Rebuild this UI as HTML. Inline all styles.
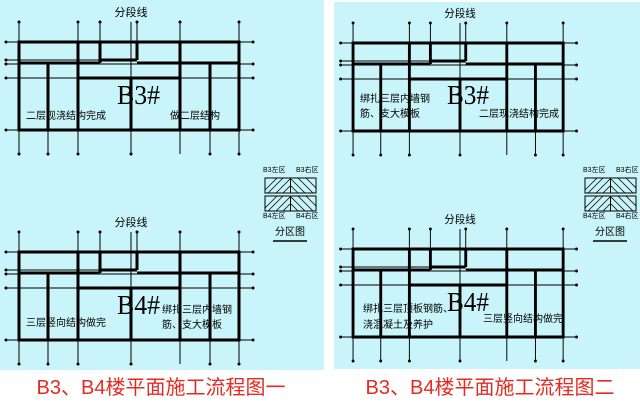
<!DOCTYPE html>
<html><head><meta charset="utf-8"><style>
html,body{margin:0;padding:0;background:#fff;width:640px;height:405px;overflow:hidden}
svg text{font-family:"Liberation Sans","Noto Sans CJK SC",sans-serif}
</style></head><body>
<svg width="640" height="405" viewBox="0 0 640 405" xmlns="http://www.w3.org/2000/svg">
<defs>
<g id="plan">
 <g stroke="#000" stroke-width="1" fill="none">
  <line x1="19" y1="22" x2="19" y2="154"/><line x1="48" y1="64" x2="48" y2="154"/>
  <line x1="78" y1="22" x2="78" y2="154"/><line x1="100" y1="22" x2="100" y2="60"/>
  <line x1="131" y1="22" x2="131" y2="154"/><line x1="137" y1="22" x2="137" y2="60"/>
  <line x1="180" y1="22" x2="180" y2="154"/><line x1="210" y1="64" x2="210" y2="154"/>
  <line x1="239" y1="22" x2="239" y2="154"/>
  <line x1="6" y1="42" x2="253" y2="42"/><line x1="6" y1="60" x2="115" y2="60"/>
  <line x1="6" y1="64" x2="253" y2="64"/><line x1="6" y1="78" x2="253" y2="78"/>
  <line x1="6" y1="130" x2="253" y2="130"/>
 </g>
 <g fill="#000">
  <circle cx="19" cy="22" r="1.5"/><circle cx="78" cy="22" r="1.5"/><circle cx="100" cy="22" r="1.5"/>
  <circle cx="137" cy="22" r="1.5"/><circle cx="180" cy="22" r="1.5"/><circle cx="239" cy="22" r="1.5"/>
  <circle cx="19" cy="154" r="1.5"/><circle cx="48" cy="154" r="1.5"/><circle cx="78" cy="154" r="1.5"/>
  <circle cx="131" cy="154" r="1.5"/><circle cx="210" cy="154" r="1.5"/><circle cx="239" cy="154" r="1.5"/>
  <circle cx="6" cy="42" r="1.5"/><circle cx="6" cy="60" r="1.5"/><circle cx="6" cy="64" r="1.5"/>
  <circle cx="6" cy="78" r="1.5"/><circle cx="6" cy="130" r="1.5"/>
  <circle cx="253" cy="42" r="1.5"/><circle cx="253" cy="64" r="1.5"/><circle cx="253" cy="78" r="1.5"/><circle cx="253" cy="130" r="1.5"/>
 </g>
 <g stroke="#000" stroke-width="3" fill="none">
  <rect x="19" y="42" width="220" height="88"/>
  <line x1="78" y1="42" x2="78" y2="130"/><line x1="180" y1="42" x2="180" y2="130"/>
  <line x1="100" y1="42" x2="100" y2="63"/><line x1="137" y1="42" x2="137" y2="60"/>
  <line x1="100" y1="60" x2="137" y2="60"/>
  <line x1="19" y1="63" x2="100" y2="63"/><line x1="137" y1="63" x2="239" y2="63"/>
  <line x1="48" y1="63" x2="48" y2="130"/><line x1="210" y1="63" x2="210" y2="130"/>
  <line x1="78" y1="78" x2="180" y2="78"/><line x1="131" y1="78" x2="131" y2="130"/>
 </g>
 <text x="131" y="16" font-size="11" text-anchor="middle">分段线</text>
</g>
<g id="box">
 <rect x="0" y="0" width="51" height="15" fill="none" stroke="#000"/>
 <line x1="25.5" y1="0" x2="25.5" y2="15" stroke="#000"/>
 <g stroke="#000" stroke-width="0.8">
  <line x1="0" y1="12" x2="12" y2="0"/><line x1="3" y1="15" x2="18" y2="0"/><line x1="11" y1="15" x2="25" y2="1"/><line x1="18" y1="15" x2="25" y2="8"/>
  <line x1="26" y1="1" x2="40" y2="15"/><line x1="33" y1="0" x2="48" y2="15"/><line x1="41" y1="0" x2="51" y2="10"/><line x1="26" y1="8" x2="33" y2="15"/>
 </g>
</g>
<g id="legend">
 <text x="0" y="172" font-size="7">B3左区</text><text x="33" y="172" font-size="7">B3右区</text>
 <use href="#box" x="2" y="178"/><use href="#box" x="2" y="196"/>
 <text x="0" y="218" font-size="7">B4左区</text><text x="33" y="218" font-size="7">B4右区</text>
 <text x="12" y="235" font-size="10">分区图</text>
 <line x1="10" y1="241" x2="44" y2="241" stroke="#000" stroke-width="1.5"/>
</g>
</defs>
<rect x="0" y="0" width="324" height="370" fill="#c9f4f9"/>
<rect x="334" y="2" width="306" height="367" fill="#c9f4f9"/>

<use href="#plan"/>
<use href="#plan" transform="translate(0,210)"/>
<use href="#plan" transform="translate(334.9,1) scale(0.955,1)"/>
<use href="#plan" transform="translate(334.9,207) scale(0.955,1)"/>

<use href="#legend" transform="translate(263,0)"/>
<use href="#legend" transform="translate(583,0)"/>

<g font-size="27" fill="#000">
<text x="117" y="104" textLength="43" lengthAdjust="spacingAndGlyphs" style="font-family:'Liberation Serif',serif">B3#</text>
<text x="117" y="314" textLength="43" lengthAdjust="spacingAndGlyphs" style="font-family:'Liberation Serif',serif">B4#</text>
<text x="447" y="104" textLength="42" lengthAdjust="spacingAndGlyphs" style="font-family:'Liberation Serif',serif">B3#</text>
<text x="447" y="311" textLength="42" lengthAdjust="spacingAndGlyphs" style="font-family:'Liberation Serif',serif">B4#</text>
</g>
<g font-size="10" fill="#000">
<text x="26" y="119">二层现浇结构完成</text>
<text x="170" y="119">做二层结构</text>
<text x="26" y="326">三层竖向结构做完</text>
<text x="162" y="313">绑扎三层内墙钢</text>
<text x="162" y="328">筋、支大模板</text>
<text x="360" y="102">绑扎三层内墙钢</text>
<text x="360" y="117">筋、支大模板</text>
<text x="479" y="117">二层现浇结构完成</text>
<text x="363" y="312">绑扎三层顶板钢筋、</text>
<text x="363" y="328">浇混凝土及养护</text>
<text x="483" y="322">三层竖向结构做完</text>
</g>
<g font-size="20" fill="#e32b22" text-anchor="middle">
<text x="161" y="394">B3、B4楼平面施工流程图一</text>
<text x="490" y="394">B3、B4楼平面施工流程图二</text>
</g>
</svg>
</body></html>
